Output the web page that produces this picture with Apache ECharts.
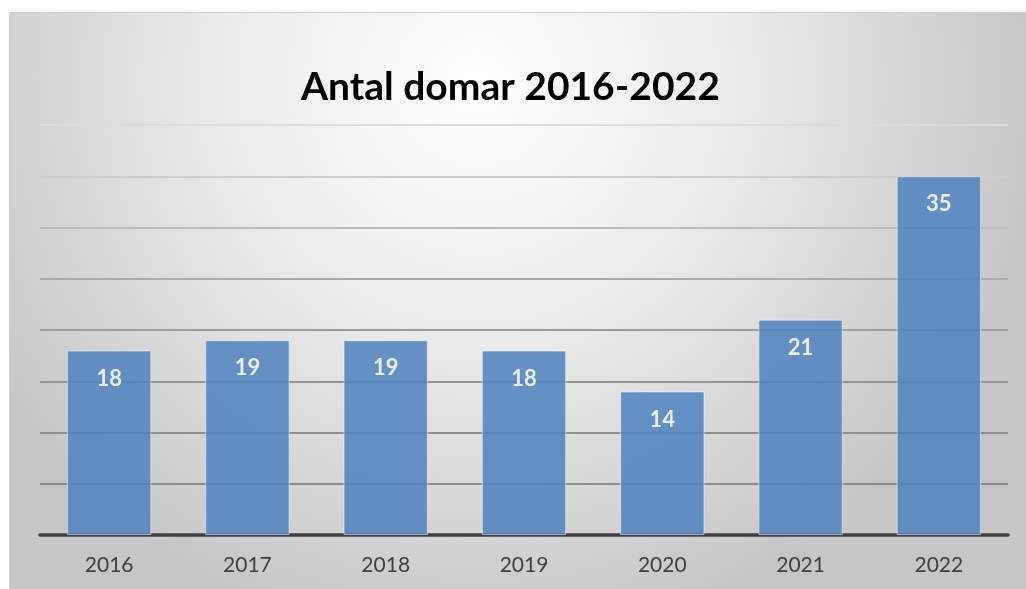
<!DOCTYPE html>
<html>
<head>
<meta charset="utf-8">
<script src="https://cdn.jsdelivr.net/npm/echarts@6/dist/echarts.min.js"></script>
<style>
  html, body { margin: 0; padding: 0; background: #fff; overflow: hidden; }
  #chart-dom {
    position: absolute; left: 9px; top: 12px;
    width: 1016px; height: 576px;
    border-left: 1px solid #d2d2d2; border-top: 1px solid #d2d2d2;
  }
</style>
</head>
<body>
<div id="chart-dom"></div>
<script>
// data
const years = ['2016', '2017', '2018', '2019', '2020', '2021', '2022'];
const domar = [18, 19, 19, 18, 14, 21, 35];
// gridline colours from value 0 upwards (lighter towards the top)
const gridColors = ['#404040', '#8c8c8c', '#8e8e8e', '#939393', '#9c9c9c', '#aaaaaa', '#bcbcbc', '#cdcdcd', '#dcdcdc'];

const myChart = echarts.init(document.getElementById('chart-dom'));
const option = {
  animation: false,
  backgroundColor: {
    type: 'radial', x: 0.46, y: 0.12, r: 0.98,
    colorStops: [
      { offset: 0, color: '#ffffff' },
      { offset: 0.45, color: '#ebebeb' },
      { offset: 1, color: '#c6c6c6' }
    ]
  },
  title: {
    text: 'Antal domar 2016-2022',
    left: 286,
    top: 50,
    textStyle: {
      fontFamily: 'Lato',
      fontWeight: 'bold',
      fontSize: 39,
      color: '#000'
    }
  },
  grid: { left: 30, right: 18, top: 112, bottom: 54 },
  xAxis: {
    type: 'category',
    data: years,
    axisLine: { lineStyle: { color: '#404040', width: 3.5 } },
    axisTick: { show: false },
    axisLabel: {
      margin: 20,
      fontFamily: 'Lato',
      fontSize: 21,
      color: '#404040'
    }
  },
  yAxis: {
    type: 'value',
    min: 0,
    max: 40,
    interval: 5,
    axisLabel: { show: false },
    axisLine: { show: false },
    axisTick: { show: false },
    splitLine: { lineStyle: { color: gridColors, width: 2 } }
  },
  series: [{
    type: 'bar',
    data: domar,
    barWidth: '61%',
    itemStyle: {
      color: '#4f81bd',
      opacity: 0.85,
      borderColor: 'rgba(255,255,255,0.6)',
      borderWidth: 1
    },
    label: {
      show: true,
      position: 'insideTop',
      distance: 17,
      fontFamily: 'Lato',
      fontWeight: 'bold',
      fontSize: 22,
      color: '#fff'
    }
  }]
};
myChart.setOption(option, true);
</script>
</body>
</html>
